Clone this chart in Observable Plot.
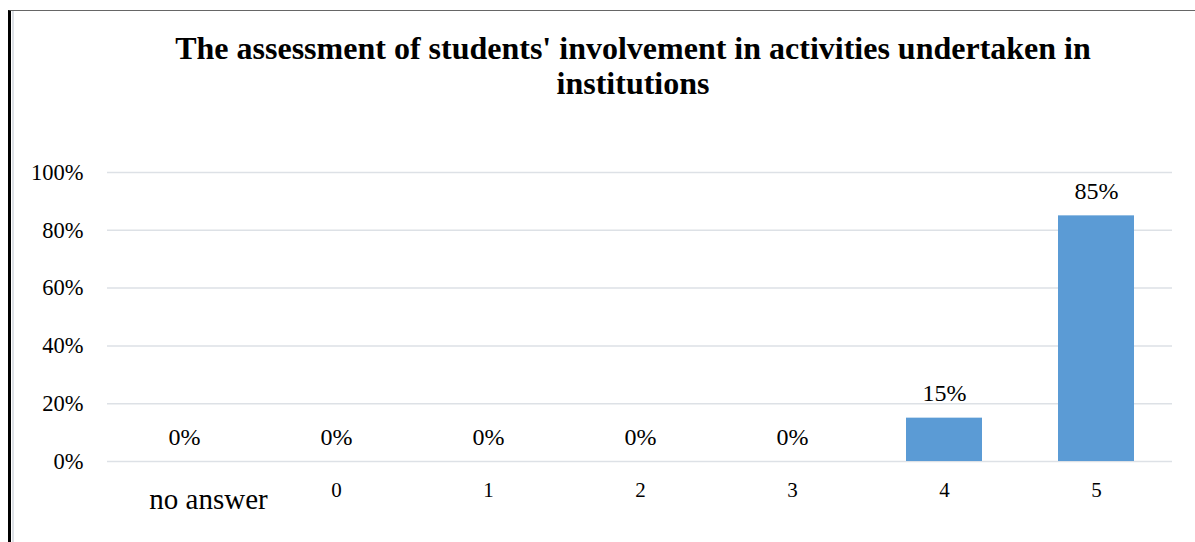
<!DOCTYPE html>
<html>
<head>
<meta charset="utf-8">
<script src="https://cdn.jsdelivr.net/npm/d3@7"></script>
<script src="https://cdn.jsdelivr.net/npm/@observablehq/plot@0.6"></script>
<style>
  html, body { margin: 0; padding: 0; background: #fff; width: 1195px; height: 542px; overflow: hidden; }
  #frame { position: absolute; left: 8px; top: 10px; width: 1300px; height: 700px;
           border-left: 3px solid #000; border-top: 1px solid #666; }
  #inner { position: absolute; left: 1px; top: 0; width: 2px; height: 700px; background: #dde1e6; }
  #title { position: absolute; left: 133px; top: 31px; width: 1000px; text-align: center;
           font-family: "Liberation Serif", "Times New Roman", serif; font-weight: bold;
           font-size: 32px; line-height: 35px; color: #000; }
  #chart { position: absolute; left: 0; top: 130px; }
</style>
</head>
<body>
<div id="frame"><div id="inner"></div></div>
<div id="title">The assessment of students' involvement in activities undertaken in<br>institutions</div>
<div id="chart"></div>
<script>
const categories = ["no answer", "0", "1", "2", "3", "4", "5"];
const values = [0, 0, 0, 0, 0, 0.15, 0.85];
const yTicks = [0, 0.2, 0.4, 0.6, 0.8, 1.0];

const data = categories.map((c, i) => ({category: c, value: values[i]}));
const pct = d3.format(".0%");
const font = "Liberation Serif, Times New Roman, serif";

const chart = Plot.plot({
  width: 1195,
  height: 412,
  marginLeft: 107,
  marginRight: 23,
  marginTop: 42,
  marginBottom: 81,
  style: {fontFamily: font, fontSize: "22px", color: "#000", background: "transparent"},
  x: {domain: categories, paddingInner: 0.5, paddingOuter: 0.25, label: null},
  y: {domain: [0, 1], label: null},
  marks: [
    Plot.ruleY(yTicks, {stroke: "#dde1e6", strokeWidth: 1.5}),
    Plot.barY(data, {x: "category", y: "value", fill: "#5b9bd5"}),
    Plot.text(data, {x: "category", y: "value", text: d => pct(d.value), dy: -17, lineAnchor: "bottom", fontSize: 24, fill: "#000"}),
    Plot.axisY(yTicks, {tickSize: 0, tickPadding: 24, tickFormat: pct, fontSize: 22.5, label: null}),
    Plot.axisX(categories.slice(1), {tickSize: 0, tickPadding: 21, fontSize: 21, label: null}),
    Plot.axisX(categories.slice(0, 1), {tickSize: 0, tickPadding: 27, fontSize: 29, dx: 24, label: null})
  ]
});
document.getElementById("chart").appendChild(chart);
</script>
</body>
</html>
